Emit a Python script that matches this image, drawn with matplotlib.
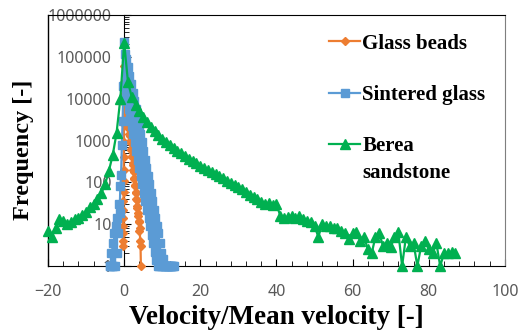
#!/usr/bin/env python3
"""Velocity distributions (log frequency) for three porous media."""

import matplotlib
matplotlib.use('Agg')
from matplotlib import pyplot as plt
from matplotlib.ticker import FuncFormatter, MultipleLocator, LogLocator
import numpy as np


# Glass beads: narrow left column near zero, then a straight decay.
GLASS_X = [-0.30, -0.28, -0.26, -0.24, -0.22, -0.20, -0.18, -0.16,
           -0.14, -0.12, -0.10, -0.08, -0.06, -0.04, -0.02, 0.0] + \
    list(np.round(np.arange(0.1, 4.45, 0.1), 1))
GLASS = [3, 4, 6, 9, 14, 22, 35, 60,
         110, 200, 400, 900, 2500, 8000, 25000, 60000,
         19000, 14000, 13000, 9500, 8800, 6600, 6000, 4500, 4000, 3000,
         2800, 2000, 1900, 1400, 1250, 950, 850, 640, 580, 430,
         400, 290, 260, 195, 175, 130, 120, 88, 82, 60,
         55, 40, 37, 27, 25, 18, 16, 12, 11, 7,
         8, 4, 3, 1]

# Sintered glass: bins of 0.2
SINTERED_X = np.round(np.arange(-3.8, 13.01, 0.2), 1)
SINTERED = [1, 1, 2, 1, 3.5,
            1, 6, 1, 9, 2, 14, 6, 30, 18, 80,
            150, 800, 3000, 20000,
            230000,
            120000, 14000, 90000, 8900, 56000, 5600, 35000, 3500, 22000, 2200,
            14000, 1400, 9000, 900, 5600, 560, 3500, 350, 2200, 220,
            1400, 140, 900, 90, 560, 56, 350, 35, 220, 22,
            140, 14, 90, 9, 56, 5.6, 35, 3.5, 22, 2.2,
            14, 1.4, 9, 1, 6, 1, 3.5, 1, 2, 1,
            1.5, 1, 1, 1, 1, 1, 1, 1, 1, 1,
            1, 1, 1, 1, 1]

# Berea sandstone: bins of 1, from -20 to 87
BEREA_X = np.arange(-20, 88)
BEREA = [7, 5, 8, 13, 12, 10, 11, 13, 14, 17,
         20, 26, 30, 40, 55, 90, 190, 450, 1500, 10000,
         220000, 25000, 11000, 7000, 5000, 3600, 2700, 2100, 1650, 1350,
         1100, 920, 780, 660, 570, 490, 420, 370, 320, 285,
         250, 225, 200, 178, 158, 140, 124, 110, 97, 86,
         76, 68, 60, 50, 44, 40, 34, 31, 32, 28,
         30, 16, 14, 15, 16, 14, 16, 13, 12, 11,
         9, 5, 10, 9, 9, 8, 8, 7, 6, 4.5,
         6, 6.5, 4, 5, 2.5, 2, 5, 6, 3, 3.5,
         2.8, 5, 6.5, 1, 5, 3, 3.5, 1, 3, 4,
         2.5, 2, 3.5, 1, 2, 2, 2.2, 2]

X_TICKS = [-20, 0, 20, 40, 60, 80, 100]
Y_TICKS = [1, 10, 100, 1000, 10000, 100000, 1000000]

ORANGE = '#ED7D31'
BLUE = '#5B9BD5'
GREEN = '#00B050'
SERIF = 'Liberation Serif'


def main():
    """Draw the three series on a log axis and save."""
    fig = plt.figure(figsize=(5.2, 3.34), dpi=100)
    ax = fig.add_axes([0.0923, 0.2036, 0.8787, 0.7514])

    ax.plot(GLASS_X, GLASS, color=ORANGE, marker='D', ms=4.3, lw=1.6,
            label='Glass beads', clip_on=False, zorder=3)
    ax.plot(SINTERED_X, SINTERED, color=BLUE, marker='s', ms=5.8, lw=1.6,
            label='Sintered glass', clip_on=False, zorder=4)
    ax.plot(BEREA_X, BEREA, color=GREEN, marker='^', ms=7, lw=1.6,
            label='Berea', clip_on=False, zorder=5)

    ax.set_yscale('log')
    ax.set_xlim(-20, 100)
    ax.set_ylim(1, 1e6)
    ax.set_xticks(X_TICKS)
    ax.xaxis.set_minor_locator(MultipleLocator(4))
    ax.set_yticks(Y_TICKS)
    ax.yaxis.set_minor_locator(LogLocator(base=10, subs=np.arange(2, 10)))
    ax.yaxis.set_major_formatter(FuncFormatter(lambda v, _: '{:.0f}'.format(v)))
    ax.yaxis.set_minor_formatter(FuncFormatter(lambda v, _: ''))

    # y axis crosses at x = 0, frame kept round the plot
    ax.spines['left'].set_position(('data', 0))
    ax.spines['right'].set_color('#7f7f7f')
    ax.plot([0, 0], [0, 1], transform=ax.transAxes, color='black', lw=1,
            clip_on=False)
    ax.tick_params(which='both', direction='in', colors='black',
                   labelcolor='#595959', labelsize=11.5, pad=9)
    ax.tick_params(which='major', length=5)
    ax.tick_params(which='minor', length=3.5)
    ax.tick_params(axis='x', pad=13)
    for lbl in ax.get_xticklabels() + ax.get_yticklabels():
        lbl.set_family('Noto Sans')

    fig.text(276.5 / 520, 1 - 318 / 334, 'Velocity/Mean velocity [-]',
             family=SERIF, weight='bold', size=19.5, ha='center',
             va='center')
    fig.text(23 / 520, 1 - 150 / 334, 'Frequency [-]', family=SERIF,
             weight='bold', size=17.5, rotation=90, ha='center', va='center')

    leg = ax.legend(loc='upper left', bbox_to_anchor=(0.575, 1.0),
                    frameon=False, prop={'family': SERIF, 'weight': 'bold',
                                         'size': 15},
                    labelspacing=1.5, handlelength=1.45, handletextpad=0.12)
    fig.canvas.draw()
    box = leg.get_texts()[2].get_window_extent()
    fig.text(box.x0 / fig.bbox.width, (box.y0 - 22) / fig.bbox.height,
             'sandstone', family=SERIF, weight='bold', size=15)

    plt.savefig('out.png', dpi=100)


if __name__ == '__main__':
    main()
